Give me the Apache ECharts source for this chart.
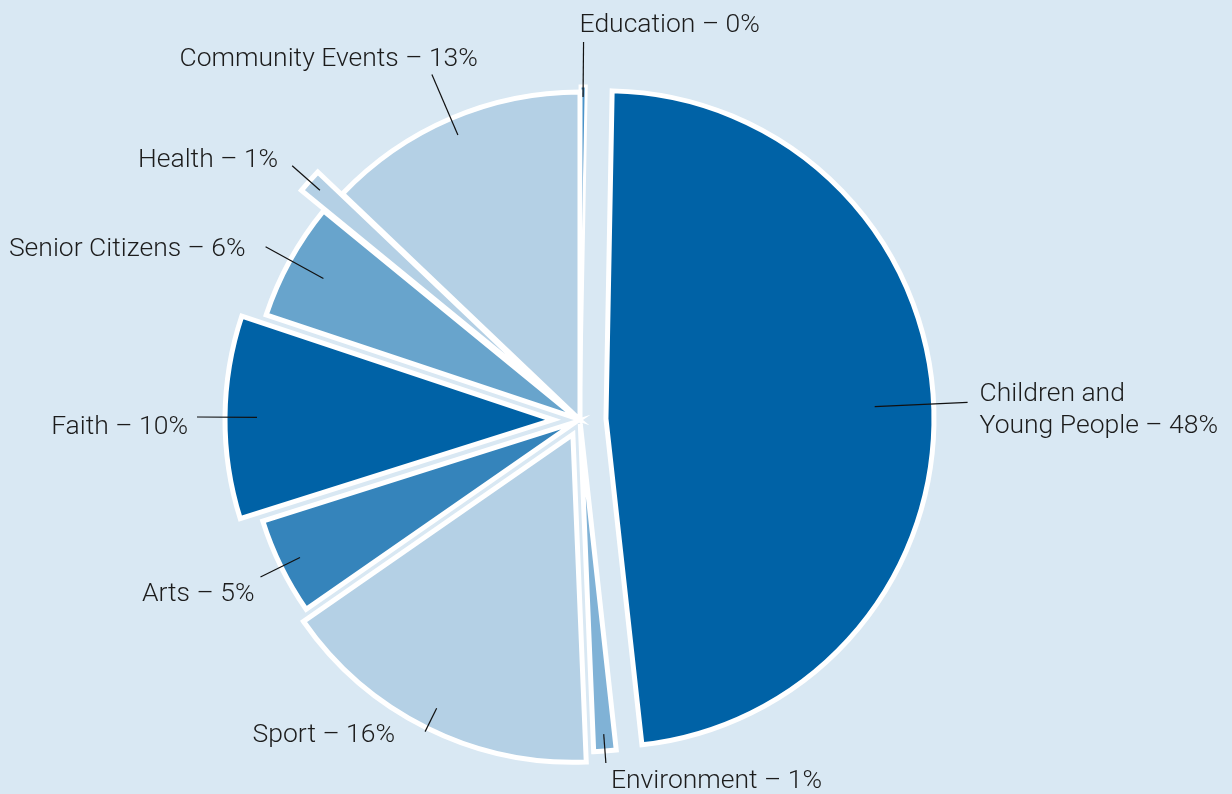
<!DOCTYPE html>
<html>
<head>
<meta charset="utf-8">
<script src="https://cdn.jsdelivr.net/npm/echarts@6/dist/echarts.min.js"></script>
<style>
html,body{margin:0;padding:0;background:#d9e8f3;}
#chart{width:1232px;height:794px;}
</style>
</head>
<body>
<div id="chart"></div>
<script>
// ---- data ----
const categories = ['Education', 'Children and\nYoung People', 'Environment', 'Sport', 'Arts', 'Faith', 'Senior Citizens', 'Health', 'Community Events'];
const shares = [0.3, 48, 1.1, 16, 4.8, 10, 5.8, 1.2, 12.9];

// ---- styles ----
const colors = ['#4a93c9', '#0062a6', '#80b2d6', '#b4d0e5', '#3584bb', '#0062a6', '#68a4cc', '#b4d0e5', '#b4d0e5'];
const borderWidths = [3, 5, 5, 5, 5, 5, 5, 5, 5];
const explode = [6, 26, 4, 16, 5, 27, 3, 33, 0];
const lineStart = [323, 295, 315, 322, 312, 323, 293, 347, 310];
const lineEnd = [378, 388, 344, 348, 356, 383, 359, 384, 376];
const labelAlign = ['left', 'left', 'left', 'right', 'right', 'right', 'right', 'right', 'right'];
const labelNudgeX = [-4, 12, 5, -30, -6, -9, -20, -14, 46];
const labelNudgeY = [-17, 8, 18, 4, 17, 10, 3, -5, -15];

const CENTER = [580, 420];
const RADIUS = 328;
const TRANSPARENT = 'rgba(0,0,0,0)';

const series = [];
// slice series: one visible slice each, exploded by its own offset
categories.forEach(function (_, i) {
  series.push({
    type: 'pie',
    center: CENTER,
    radius: [0, RADIUS],
    startAngle: 90,
    clockwise: true,
    selectedMode: 'multiple',
    selectedOffset: explode[i],
    silent: true,
    z: 2,
    label: { show: false },
    labelLine: { show: false },
    emphasis: { disabled: true },
    select: { itemStyle: { borderColor: '#ffffff', borderWidth: borderWidths[i], color: colors[i] } },
    data: shares.map(function (v, j) {
      return {
        name: categories[j],
        value: v,
        selected: j === i,
        itemStyle: j === i
          ? { color: colors[j], borderColor: '#ffffff', borderWidth: borderWidths[j], borderJoin: 'miter' }
          : { color: TRANSPARENT, borderWidth: 0 }
      };
    })
  });
});
// label series: leader lines start inside the slices
categories.forEach(function (_, i) {
  series.push({
    type: 'pie',
    center: CENTER,
    radius: [0, lineStart[i]],
    startAngle: 90,
    clockwise: true,
    silent: true,
    z: 5,
    avoidLabelOverlap: false,
    emphasis: { disabled: true },
    itemStyle: { color: TRANSPARENT, borderWidth: 0 },
    label: {
      show: false,
      position: 'outer',
      overflow: 'none',
      bleedMargin: 0,
      color: '#1c1c1c',
      fontFamily: 'Roboto, "Noto Sans", sans-serif',
      fontWeight: 300,
      fontSize: 26.5,
      lineHeight: 32,
      formatter: function (p) { return p.name + ' \u2013 ' + Math.round(p.value) + '%'; }
    },
    labelLine: { show: false, length: 10, length2: 0, lineStyle: { color: '#111111', width: 1.2 } },
    labelLayout: function (p) {
      const pts = p.labelLinePoints;
      if (!pts || !pts.length) { return { hideOverlap: false }; }
      const e = pts[pts.length - 1];
      const k = p.dataIndex;
      return {
        x: e[0] + labelNudgeX[k],
        y: e[1] + labelNudgeY[k],
        align: labelAlign[k],
        verticalAlign: 'middle',
        labelLinePoints: pts,
        hideOverlap: false
      };
    },
    data: shares.map(function (v, j) {
      const item = { name: categories[j], value: v };
      if (j === i) {
        item.label = { show: true };
        item.labelLine = { show: true, length: lineEnd[j] - lineStart[j], length2: 0 };
      }
      return item;
    })
  });
});

const chart = echarts.init(document.getElementById('chart'), null, { renderer: 'canvas' });
chart.setOption({
  backgroundColor: '#d9e8f3',
  animation: false,
  series: series
});
</script>
</body>
</html>
